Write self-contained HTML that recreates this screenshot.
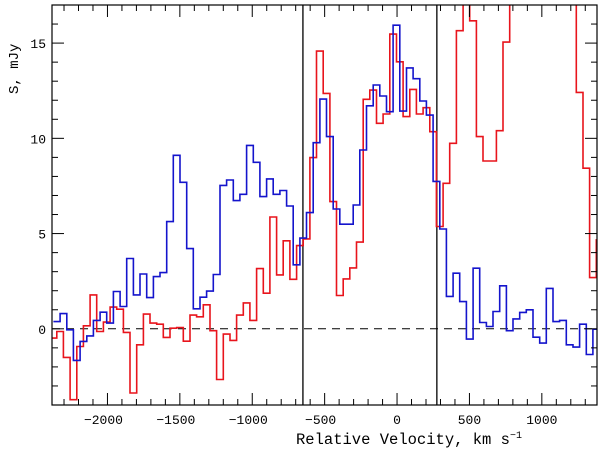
<!DOCTYPE html>
<html><head><meta charset="utf-8"><style>
body{margin:0;background:#fff}
svg text{font-family:"Liberation Sans",sans-serif;font-size:14px;fill:#000}
</style></head><body>
<svg id="chart" width="600" height="449" viewBox="0 0 600 449" xmlns="http://www.w3.org/2000/svg">
<defs><clipPath id="clip"><rect x="52" y="5" width="545" height="400"/></clipPath></defs>
<g id="marks" clip-path="url(#clip)"></g>
<g id="axes"></g>
<rect x="52" y="5" width="545" height="400" fill="none" stroke="#000" stroke-width="1.2"/>
<text transform="translate(18,94) rotate(-90)" style="font-family:'Liberation Mono',monospace;font-size:14px">S, mJy</text>
<text x="296" y="444" style="font-family:'Liberation Mono',monospace;font-size:15.5px">Relative Velocity, km s<tspan dy="-6" font-size="10">−1</tspan></text>
</svg>
<script>
const blueStart = -2373;
const redStart = -2396;
const chanWidth = 46;
const blueValues = [0.38,0.8,-0.05,-1.66,-0.66,-0.37,0.44,0.87,0.3,1.96,1.17,3.69,1.78,2.88,1.64,2.74,2.95,5.63,9.11,7.69,4.21,1.05,1.66,1.98,2.85,7.53,7.81,6.73,7.06,9.63,8.74,6.94,7.87,7.06,7.26,6.45,3.36,4.76,6.1,9.77,12.06,10.09,6.29,5.49,5.49,6.5,9.39,11.71,12.8,12.22,11.4,15.94,11.43,13.7,13.13,11.96,11.22,7.74,5.24,1.7,2.92,1.43,-0.54,3.18,0.33,0.12,0.91,2.26,-0.1,0.52,0.86,1.0,-0.44,-0.75,2.12,0.38,0.44,-0.84,-0.96,0.24,-1.35,-0.02];
const redValues = [-0.49,-0.14,-1.5,-3.72,-0.93,0.16,1.78,-0.14,0.35,1.14,1.03,-0.19,-3.37,-0.84,0.77,0.3,0.24,-0.45,0.03,0.07,-0.65,0.72,0.63,1.26,-0.1,-2.66,-0.28,-0.61,0.72,1.36,0.44,3.16,1.87,5.87,2.83,4.62,2.6,4.37,4.72,8.99,14.58,12.36,6.68,1.75,2.62,3.2,4.55,12.05,12.53,10.79,11.28,15.47,14.02,11.14,12.57,11.28,11.61,10.35,5.37,7.64,9.74,15.65,20,16.17,10.09,8.81,8.81,10.4,15.05,20,20,20,20,20,20,20,20,20,20,12.41,8.43,2.69,4.67];
const xTicks = [-2000,-1500,-1000,-500,0,500,1000];
const yTicks = [0,5,10,15];
const vLines = [-650,275];
const xmin=-2383,xmax=1381,ymin=-4.0,ymax=17.0;
const L=52,R=597,T=5,B=405;
const X=v=>L+(v-xmin)*(R-L)/(xmax-xmin);
const Y=s=>B-(s-ymin)*(B-T)/(ymax-ymin);
const NS="http://www.w3.org/2000/svg";
const marks=document.getElementById('marks'),axes=document.getElementById('axes');
function mk(tag,attrs,parent){const e=document.createElementNS(NS,tag);for(const k in attrs)e.setAttribute(k,attrs[k]);parent.appendChild(e);return e;}
function stepPath(start,vals){let d='';vals.forEach((s,i)=>{const x0=X(start+i*chanWidth),x1=X(start+(i+1)*chanWidth),y=Y(s);d+=(i===0?'M':'L')+x0.toFixed(1)+','+y.toFixed(1)+'L'+x1.toFixed(1)+','+y.toFixed(1);});return d;}
const zero=mk('line',{x1:L,x2:R,y1:Y(0),y2:Y(0),stroke:'#000','stroke-dasharray':'8,6','stroke-width':1},marks);


vLines.forEach(v=>{const l=mk('line',{x1:X(v),x2:X(v),y1:T,y2:B,stroke:'#000','stroke-width':1.3},marks);

});
const red=mk('path',{d:stepPath(redStart,redValues),fill:'none',stroke:'#e8141c','stroke-width':1.6},marks);


const blue=mk('path',{d:stepPath(blueStart,blueValues),fill:'none',stroke:'#1414cc','stroke-width':1.6},marks);


for(let v=-2300;v<=1300;v+=100){const maj=v%500===0;const len=maj?12:6;
mk('line',{x1:X(v),x2:X(v),y1:B,y2:B-len,stroke:'#000'},axes);
mk('line',{x1:X(v),x2:X(v),y1:T,y2:T+len,stroke:'#000'},axes);}
for(let s=-3;s<=16;s++){const maj=s%5===0;const len=maj?12:6;
mk('line',{x1:L,x2:L+len,y1:Y(s),y2:Y(s),stroke:'#000'},axes);
mk('line',{x1:R,x2:R-len,y1:Y(s),y2:Y(s),stroke:'#000'},axes);}
xTicks.forEach(v=>{const t=mk('text',{x:X(v)-(v<0?4:0),y:424,'text-anchor':'middle',style:"font-family:'Liberation Mono',monospace;font-size:13px"},axes);t.textContent=(v<0?'−':'')+Math.abs(v);

});
yTicks.forEach(s=>{const t=mk('text',{x:46,y:Y(s)+5,'text-anchor':'end',style:"font-family:'Liberation Mono',monospace;font-size:13px"},axes);t.textContent=s;

});
</script>
</body></html>
